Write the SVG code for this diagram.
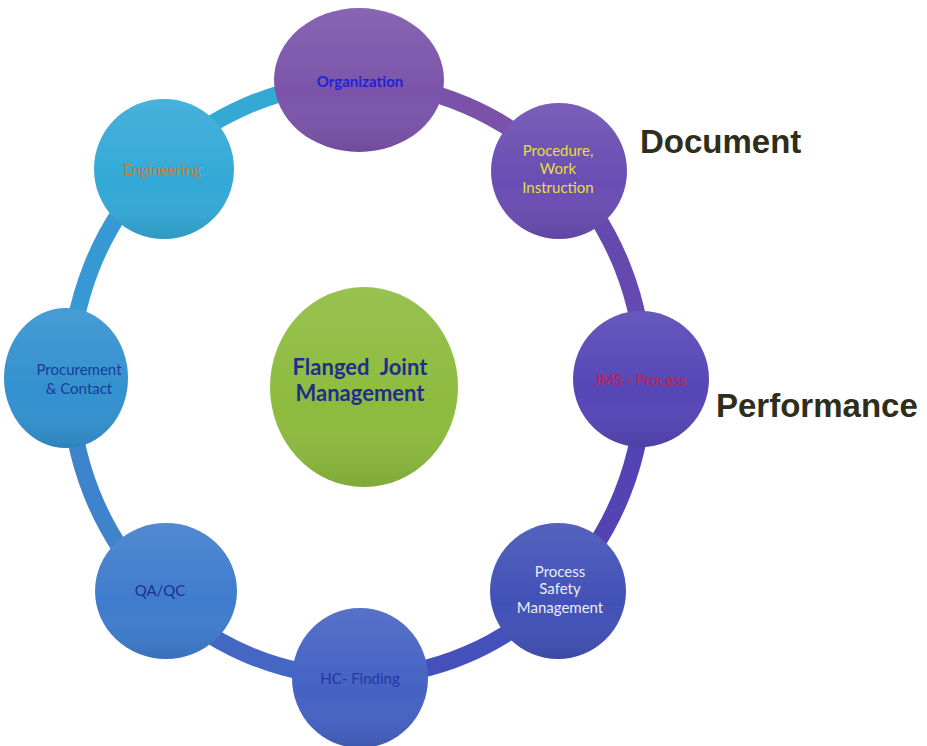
<svg xmlns="http://www.w3.org/2000/svg" width="927" height="746" viewBox="0 0 927 746">
<defs>
<linearGradient id="shade" x1="0" y1="0" x2="0" y2="1">
<stop offset="0" stop-color="#ffffff" stop-opacity="0.10"/>
<stop offset="0.6" stop-color="#ffffff" stop-opacity="0"/>
<stop offset="1" stop-color="#000000" stop-opacity="0.10"/>
</linearGradient>
<style>
.ring{fill:none;stroke-width:17;stroke-linecap:butt}
.lbl{font-family:Lato,"Open Sans","Liberation Sans",sans-serif;font-size:15px;text-anchor:middle}
.b{font-weight:bold}
.big{font-size:22px}
.side{font-family:"Liberation Sans",Arial,sans-serif;font-size:33px;font-weight:bold;fill:#2e2e1c}
.ov{fill:url(#shade)}
</style>
</defs>
<rect width="927" height="746" fill="#ffffff"/>
<g id="connectors">
<path class="ring" stroke="#7a52aa" d="M357 83 A287 297 0 0 1 560 170"/>
<path class="ring" stroke="#6649b0" d="M560 170 A287 297 0 0 1 644 380"/>
<path class="ring" stroke="#5443b3" d="M644 380 A287 297 0 0 1 560 590"/>
<path class="ring" stroke="#4550ba" d="M560 590 A287 297 0 0 1 357 677"/>
<path class="ring" stroke="#4567c4" d="M357 677 A287 297 0 0 1 154 590"/>
<path class="ring" stroke="#3d84cc" d="M154 590 A287 297 0 0 1 70 380"/>
<path class="ring" stroke="#3799d3" d="M70 380 A287 297 0 0 1 154 170"/>
<path class="ring" stroke="#35a9d6" d="M154 170 A287 297 0 0 1 357 83"/>
</g>
<g id="organization">
<ellipse cx="359" cy="80" rx="85" ry="72" fill="#7b54aa"/>
<ellipse class="ov" cx="359" cy="80" rx="85" ry="72"/>
<text class="lbl b" x="360" y="87" fill="#2222d4">Organization</text>
</g>
<g id="procedure">
<circle cx="559" cy="171" r="68" fill="#6a4db2"/>
<circle class="ov" cx="559" cy="171" r="68"/>
<text class="lbl" x="558" y="156" fill="#e6df3c">Procedure,</text>
<text class="lbl" x="558" y="174" fill="#e6df3c">Work</text>
<text class="lbl" x="558" y="193" fill="#e6df3c">Instruction</text>
</g>
<g id="engineering">
<circle cx="164" cy="169" r="70" fill="#33a9d7"/>
<circle class="ov" cx="164" cy="169" r="70"/>
<text class="lbl" x="162" y="175" fill="#cc7a35">Engineering</text>
</g>
<g id="jms">
<circle cx="641" cy="379" r="68" fill="#5646b6"/>
<circle class="ov" cx="641" cy="379" r="68"/>
<text class="lbl" x="640" y="385" fill="#c42048">JMS - Process</text>
</g>
<g id="procurement">
<ellipse cx="66" cy="378" rx="62" ry="70" fill="#3391cf"/>
<ellipse class="ov" cx="66" cy="378" rx="62" ry="70"/>
<text class="lbl" x="79" y="375" fill="#1d3a9c">Procurement</text>
<text class="lbl" x="79" y="394" fill="#1d3a9c">&amp; Contact</text>
</g>
<g id="center">
<ellipse cx="364" cy="387" rx="94" ry="100" fill="#8dbb3e"/>
<ellipse class="ov" cx="364" cy="387" rx="94" ry="100"/>
<text class="lbl b big" x="360" y="375" fill="#1f2e8c" xml:space="preserve">Flanged  Joint</text>
<text class="lbl b big" x="360" y="401" fill="#1f2e8c">Management</text>
</g>
<g id="process-safety">
<circle cx="558" cy="591" r="68" fill="#4251b7"/>
<circle class="ov" cx="558" cy="591" r="68"/>
<text class="lbl" x="560" y="577" fill="#ececf4">Process</text>
<text class="lbl" x="560" y="594" fill="#ececf4">Safety</text>
<text class="lbl" x="560" y="613" fill="#ececf4">Management</text>
</g>
<g id="qaqc">
<ellipse cx="166" cy="591" rx="71" ry="68" fill="#3f7ccd"/>
<ellipse class="ov" cx="166" cy="591" rx="71" ry="68"/>
<text class="lbl" x="160" y="596" fill="#1c2f92">QA/QC</text>
</g>
<g id="hc-finding">
<ellipse cx="360" cy="678" rx="68" ry="70" fill="#4562c3"/>
<ellipse class="ov" cx="360" cy="678" rx="68" ry="70"/>
<text class="lbl" x="360" y="684" fill="#2536a8">HC- Finding</text>
</g>
<g id="side-labels">
<text class="side" x="640" y="153">Document</text>
<text class="side" x="716" y="417">Performance</text>
</g>
</svg>
